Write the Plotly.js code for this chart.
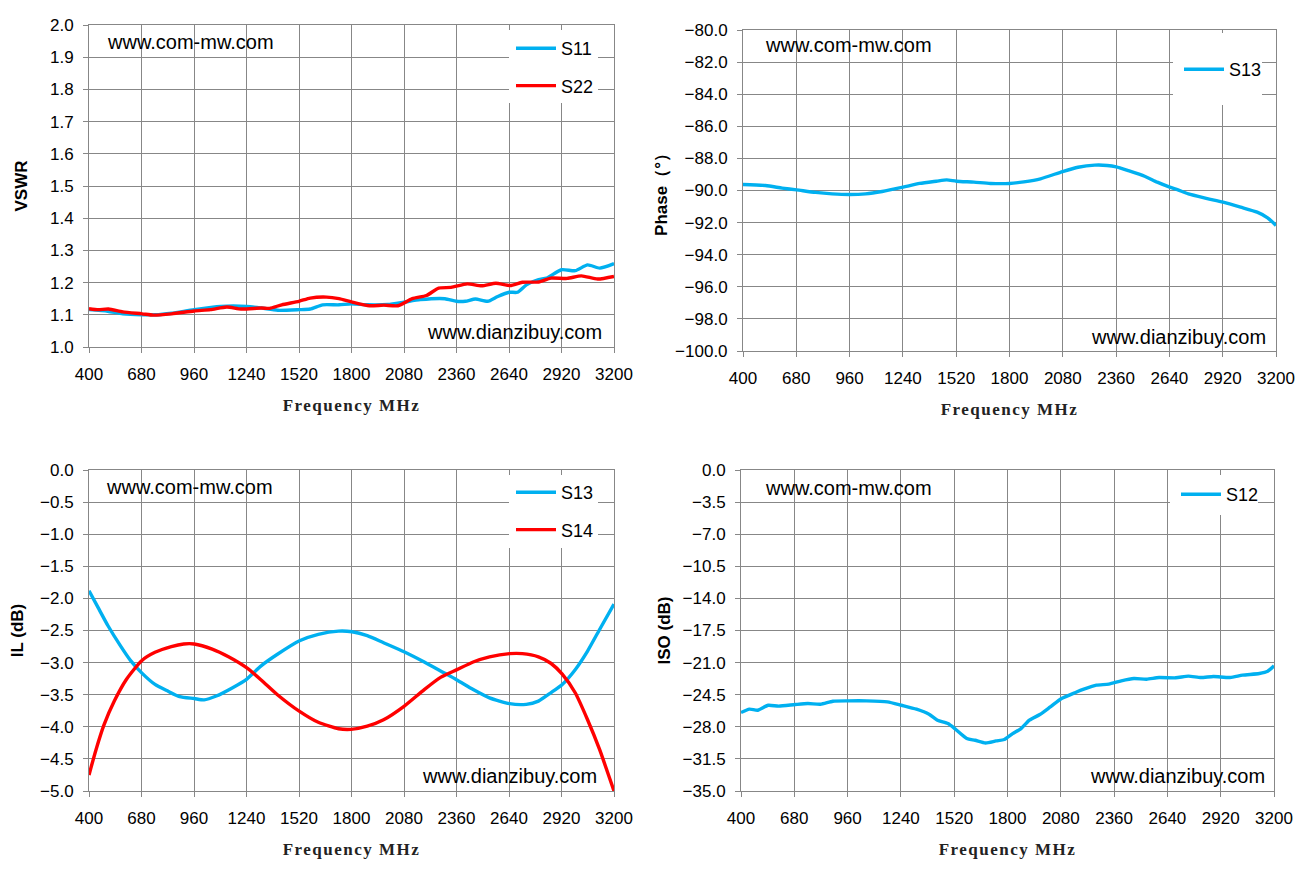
<!DOCTYPE html>
<html>
<head>
<meta charset="utf-8">
<script src="https://cdn.plot.ly/plotly-3.0.1.min.js"></script>
<style>
html,body{margin:0;padding:0;background:#fff;}
#chart{width:1306px;height:875px;}
.xtitle,.x2title,.x3title,.x4title{letter-spacing:1.5px;}
</style>
</head>
<body>
<div id="chart"></div>
<script>
// ---------- data ----------
const vswrS11Freq = [400,500,580,683,754,841,961,1102,1241,1320,1407,1520,1580,1646,1733,1800,1885,1994,2078,2167,2298,2359,2407,2461,2526,2580,2641,2685,2733,2798,2841,2920,2994,3059,3124,3200];
const vswrS11 = [1.116,1.111,1.103,1.100,1.100,1.105,1.116,1.126,1.126,1.121,1.114,1.116,1.118,1.131,1.131,1.134,1.131,1.132,1.139,1.147,1.150,1.142,1.142,1.149,1.142,1.157,1.170,1.170,1.193,1.209,1.214,1.240,1.237,1.255,1.245,1.259];
const vswrS22Freq = [400,450,504,580,683,743,841,961,1048,1135,1211,1320,1363,1428,1520,1580,1667,1733,1800,1896,1972,2048,2124,2200,2265,2331,2417,2494,2570,2646,2711,2798,2863,2950,3026,3113,3200];
const vswrS22 = [1.119,1.116,1.118,1.109,1.103,1.099,1.103,1.112,1.116,1.124,1.118,1.121,1.120,1.131,1.142,1.152,1.155,1.150,1.140,1.128,1.130,1.128,1.150,1.160,1.183,1.185,1.196,1.190,1.198,1.191,1.201,1.202,1.214,1.213,1.221,1.211,1.219];

const phaseFreq = [400,518,606,682,781,868,960,1044,1131,1241,1328,1416,1470,1521,1613,1700,1801,1875,1963,2079,2160,2248,2313,2361,2423,2510,2576,2642,2685,2740,2839,2922,3014,3101,3156,3200];
const phaseS13 = [-89.63,-89.69,-89.85,-89.96,-90.12,-90.21,-90.25,-90.21,-90.06,-89.79,-89.56,-89.42,-89.34,-89.42,-89.48,-89.56,-89.56,-89.46,-89.27,-88.82,-88.55,-88.42,-88.44,-88.53,-88.76,-89.11,-89.48,-89.79,-89.96,-90.21,-90.50,-90.73,-91.04,-91.35,-91.70,-92.18];

const ilS13Freq = [400,448,502,568,622,681,752,818,883,961,1014,1079,1166,1240,1318,1405,1523,1623,1731,1803,1884,1971,2080,2188,2275,2362,2449,2536,2643,2732,2797,2863,2924,2993,3059,3124,3200];
const ilS13 = [-1.88,-2.14,-2.43,-2.74,-2.97,-3.16,-3.34,-3.44,-3.53,-3.56,-3.58,-3.52,-3.39,-3.26,-3.05,-2.87,-2.66,-2.56,-2.51,-2.52,-2.58,-2.69,-2.83,-2.99,-3.13,-3.27,-3.42,-3.55,-3.64,-3.65,-3.60,-3.47,-3.34,-3.11,-2.82,-2.48,-2.09];
const ilS14Freq = [400,437,480,535,600,681,752,839,905,961,1057,1144,1240,1318,1405,1523,1623,1731,1797,1884,1971,2080,2188,2275,2362,2449,2536,2643,2711,2797,2863,2924,2993,3059,3124,3167,3200];
const ilS14 = [-4.75,-4.36,-3.97,-3.60,-3.26,-2.97,-2.84,-2.75,-2.71,-2.71,-2.79,-2.91,-3.08,-3.27,-3.50,-3.76,-3.93,-4.03,-4.04,-3.99,-3.89,-3.68,-3.42,-3.23,-3.11,-2.99,-2.91,-2.86,-2.86,-2.91,-3.01,-3.18,-3.47,-3.89,-4.36,-4.72,-5.00];

const isoFreq = [400,444,488,543,598,685,751,817,883,962,1059,1169,1243,1322,1388,1432,1487,1527,1586,1630,1685,1740,1783,1827,1871,1915,1970,2025,2084,2157,2201,2267,2332,2398,2464,2530,2596,2684,2750,2816,2882,2969,3035,3123,3167,3200];
const isoS12 = [-26.45,-26.08,-26.19,-25.65,-25.75,-25.57,-25.46,-25.54,-25.21,-25.17,-25.17,-25.28,-25.65,-26.08,-26.63,-27.28,-27.65,-28.27,-29.28,-29.47,-29.76,-29.54,-29.39,-28.74,-28.19,-27.28,-26.66,-25.83,-24.92,-24.26,-23.90,-23.46,-23.35,-22.99,-22.74,-22.81,-22.63,-22.66,-22.48,-22.63,-22.52,-22.63,-22.37,-22.19,-21.94,-21.35];

const freqTicks = [400,680,960,1240,1520,1800,2080,2360,2640,2920,3200];
const xTitle = 'Frequency MHz';
const wmTop = 'www.com-mw.com';
const wmBottom = 'www.dianzibuy.com';

// ---------- styling ----------
const W = 1306, H = 875;
const BLUE = '#00B0F0', RED = '#FF0000', GRID = '#878787';
const tickFont = {family:'Liberation Sans, Arial, sans-serif', size:17, color:'#000'};
const xTitleFont = {family:'Liberation Serif, Times New Roman, serif', size:17, color:'#222', weight:'bold'};
const yTitleFont = {family:'Liberation Sans, Arial, sans-serif', size:17, color:'#000', weight:'bold'};

function px(x){return x/W;}
function py(y){return 1 - y/H;}

function xax(d0,d1,anchor){
  return {domain:[px(d0),px(d1)], anchor:anchor, range:[400,3200], tickmode:'array', tickvals:freqTicks,
    ticktext:freqTicks.map(String), showgrid:true, gridcolor:GRID, gridwidth:1, showline:true, linecolor:GRID,
    linewidth:1, mirror:true, ticks:'outside', ticklen:5, tickcolor:GRID, tickfont:tickFont, zeroline:false,
    ticklabelstandoff:7, automargin:false,
    title:{text:xTitle, font:xTitleFont, standoff:15}};
}
function yax(d0,d1,anchor,r,dt,title,so){
  return {domain:[py(d1),py(d0)], anchor:anchor, range:r, dtick:dt, tick0:r[0], tickformat:'.1f',
    showgrid:true, gridcolor:GRID, gridwidth:1, showline:true, linecolor:GRID, linewidth:1, mirror:true,
    ticks:'outside', ticklen:5, tickcolor:GRID, tickfont:tickFont, zeroline:false, ticklabelstandoff:6,
    automargin:false, title:{text:title, font:yTitleFont, standoff:so}};
}

const traces = [
  {x:vswrS11Freq, y:vswrS11, name:'S11', xaxis:'x', yaxis:'y', legend:'legend', legendgroup:'a', line:{color:BLUE}},
  {x:vswrS22Freq, y:vswrS22, name:'S22', xaxis:'x', yaxis:'y', legend:'legend', legendgroup:'b', line:{color:RED}},
  {x:phaseFreq, y:phaseS13, name:'S13', xaxis:'x2', yaxis:'y2', legend:'legend2', line:{color:BLUE}},
  {x:ilS13Freq, y:ilS13, name:'S13', xaxis:'x3', yaxis:'y3', legend:'legend3', legendgroup:'c', line:{color:BLUE}},
  {x:ilS14Freq, y:ilS14, name:'S14', xaxis:'x3', yaxis:'y3', legend:'legend3', legendgroup:'d', line:{color:RED}},
  {x:isoFreq, y:isoS12, name:'S12', xaxis:'x4', yaxis:'y4', legend:'legend4', line:{color:BLUE}}
].map(t => Object.assign({type:'scatter', mode:'lines', hoverinfo:'x+y'}, t));
traces.forEach(t => { t.line.width = 3.4; t.line.shape = 'spline'; t.line.smoothing = 0.6; });

const legFont = {family:'Liberation Sans, Arial, sans-serif', size:18, color:'#000'};
function leg(x,y){
  return {x:px(x), y:py(y), xanchor:'left', yanchor:'top', bgcolor:'rgba(0,0,0,0)', borderwidth:0,
    font:legFont, tracegroupgap:11, itemwidth:40, traceorder:'grouped'};
}

function wm(text,x,y,anchor){
  return {text:text, xref:'paper', yref:'paper', x:px(x), y:py(y), xanchor:anchor, yanchor:'middle',
    showarrow:false, font:{family:'Liberation Sans, Arial, sans-serif', size:20, color:'#000'}};
}
function box(x0,y0,x1,y1){
  return {type:'rect', xref:'paper', yref:'paper', x0:px(x0), x1:px(x1), y0:py(y1), y1:py(y0),
    fillcolor:'#fff', line:{width:0}, layer:'above'};
}

const layout = {
  width:W, height:H, margin:{l:0,r:0,t:0,b:0}, paper_bgcolor:'#fff', plot_bgcolor:'#fff',
  showlegend:true,
  xaxis:xax(89,614,'y'),
  yaxis:yax(25,347,'x',[1,2],0.1,'VSWR',18),
  xaxis2:xax(743,1276,'y2'),
  yaxis2:yax(30,351,'x2',[-100,-80],2,'Phase（°）',3),
  xaxis3:xax(89,614,'y3'),
  yaxis3:yax(470,791,'x3',[-5,0],0.5,'IL (dB)',12),
  xaxis4:xax(741,1274,'y4'),
  yaxis4:yax(470,791,'x4',[-35,0],3.5,'ISO (dB)',7),
  legend:leg(511,30),
  legend2:leg(1179,51),
  legend3:leg(511,474),
  legend4:leg(1176,476),
  shapes:[box(509,30,598,103), box(1173,33,1262,105), box(509,475,598,548), box(1170,475,1258,515)],
  annotations:[
    wm(wmTop,105,42,'left'), wm(wmBottom,604,332,'right'),
    wm(wmTop,763,45,'left'), wm(wmBottom,1268,337,'right'),
    wm(wmTop,104,487,'left'), wm(wmBottom,599,776,'right'),
    wm(wmTop,763,488,'left'), wm(wmBottom,1267,776,'right')
  ]
};

Plotly.newPlot('chart', traces, layout, {staticPlot:true, displayModeBar:false});
</script>
</body>
</html>
